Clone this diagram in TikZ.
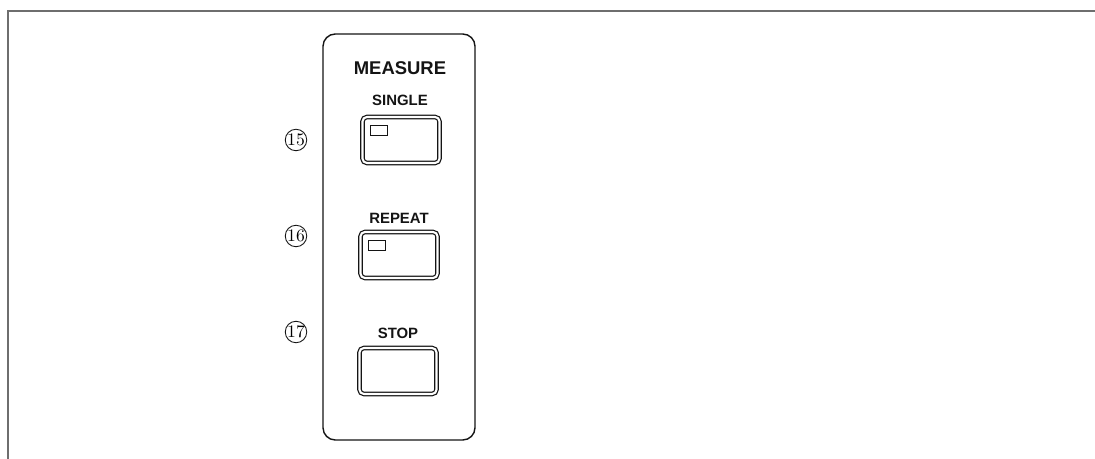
\documentclass[tikz,border=0pt]{standalone}
\usepackage{fontspec}
\setsansfont{Liberation Sans}
\usepackage{tikz}
\usetikzlibrary{positioning}
\definecolor{ink}{RGB}{20,20,20}
\definecolor{rule}{RGB}{110,110,110}

\tikzset{
  keylabel/.style={font=\sffamily\bfseries\fontsize{8.5}{9}\selectfont, text=ink, inner sep=0pt},
  keybox/.style={draw=ink, line width=0.7pt, double=white, double distance=1.2pt,
    rounded corners=2.5pt, minimum width=1.54cm, minimum height=0.92cm, inner sep=0pt},
  led/.style={draw=ink, line width=0.6pt, minimum width=0.34cm, minimum height=0.19cm,
    inner sep=0pt, anchor=north west},
  callout/.style={circle, draw=ink, line width=0.5pt, minimum size=0.43cm, inner sep=0pt,
    font=\fontsize{10}{10}\selectfont}
}

\begin{document}
\begin{tikzpicture}[x=0.02cm, y=-0.02cm]

\useasboundingbox (0, 0) rectangle (1095, 459);

% page frame
\draw[rule, line width=0.7pt] (8, 459) -- (8, 11) -- (1095, 11);

% panel
\draw[ink, line width=0.8pt, rounded corners=7pt] (323, 34) rectangle (475, 440);

\node[keylabel, font=\sffamily\bfseries\fontsize{10.5}{11}\selectfont] (measure) at (400, 68) {MEASURE};

\node[keylabel] (single) at (400, 100) {SINGLE};
\node[keybox] (b1) at (401, 140) {};
\node[led] (led1) at ([xshift=0.16cm, yshift=-0.18cm]b1.north west) {};

\node[keylabel] (repeat) at (399, 218) {REPEAT};
\node[keybox] (b2) at (399, 255) {};
\node[led] (led2) at ([xshift=0.16cm, yshift=-0.18cm]b2.north west) {};

\node[keylabel] (stop) at (398, 333) {STOP};
\node[keybox] (b3) at (398, 371) {};

% callouts
\node[callout] (c15) at (296, 140) {15};
\node[callout] (c16) at (296, 236) {16};
\node[callout] (c17) at (296, 332) {17};

\end{tikzpicture}
\end{document}
